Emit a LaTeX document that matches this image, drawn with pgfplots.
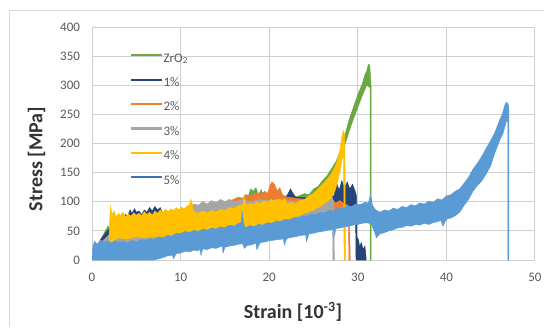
\documentclass[border=0pt]{standalone}
\usepackage{pgfplots}
\pgfplotsset{compat=1.18}
\usepackage{fontspec}
\setmainfont{Carlito}

\definecolor{cZr}{HTML}{6AA843}
\definecolor{cOne}{HTML}{264478}
\definecolor{cTwo}{HTML}{ED7D31}
\definecolor{cThree}{HTML}{A5A5A5}
\definecolor{cFour}{HTML}{FFC000}
\definecolor{cFive}{HTML}{5B9BD5}
\definecolor{cFiveLeg}{HTML}{3F72B5}
\definecolor{txtgray}{HTML}{595959}
\definecolor{gridgray}{HTML}{D0D0D0}
\definecolor{framegray}{HTML}{D9D9D9}

\begin{document}
\begin{tikzpicture}[x=1pt,y=1pt]
\useasboundingbox (0,0) rectangle (544,327);
% chart area frame
\draw[framegray, line width=0.8pt] (9.3,0) -- (9.3,317) -- (544,317);

\begin{axis}[
  at={(92pt,67pt)}, anchor=south west,
  scale only axis, width=443pt, height=233pt,
  xmin=0, xmax=50, ymin=0, ymax=400,
  xtick={0,10,...,50}, ytick={0,50,...,400},
  grid=major, grid style={color=gridgray, line width=1pt},
  axis line style={draw=none}, major tick length=0pt,
  tick label style={font=\fontsize{13}{15}\selectfont, color=txtgray},
  /pgf/number format/assume math mode=true,
  yticklabel style={xshift=-8.5pt},
  xticklabel style={yshift=-10pt},
  xlabel={Strain [10\textsuperscript{-3}]},
  ylabel={Stress [MPa]},
  every axis x label/.style={at={(axis description cs:0.4537,-0.223)}, anchor=center,
    font=\bfseries\fontsize{20}{24}\selectfont, text=black!80},
  every axis y label/.style={at={(axis description cs:-0.1253,0.4335)}, rotate=90, anchor=center,
    font=\bfseries\fontsize{20}{24}\selectfont, text=black!80},
  legend cell align=left,
  legend style={at={(axis description cs:0.088,0.895)}, anchor=north west,
    draw=none, fill=none, inner sep=0pt, row sep=9.4pt, column sep=0pt,
    font=\fontsize{13}{15}\selectfont, text=txtgray,
    nodes={inner sep=2pt, text height=8.5pt, text depth=2.5pt}},
  legend image code/.code={\fill[#1] (0pt,3.5pt) rectangle (30pt,4.7pt);},
]

% ZrO2
\addplot[fill=cZr, draw=cZr, line width=0.5pt, forget plot] coordinates {
 (0,0) (0.5,20) (1,35) (1.5,50) (1.8,58) (2.2,54) (2.6,62) (3,60) (3.5,66) (4,63)
 (5,70) (6,68) (7,75) (8,74) (9,80) (10,78) (11,86) (12,84) (13,90) (14,88)
 (15,96) (16,94) (17,104) (17.3,112) (17.6,106) (17.9,122) (18.2,118) (18.5,124)
 (18.8,112) (19.1,121) (19.4,108) (20,110) (21,106) (22,110) (23,108) (24,114)
 (24.5,112) (25,122) (25.5,126) (26,136) (26.5,144) (27,156) (27.5,168) (28,186)
 (28.5,212) (29,240) (29.5,262) (30,284) (30.5,302) (30.8,318) (31,324) (31.2,336)
 (31.35,334) (31.5,300) (31.5,0)
 (31.38,0) (31.38,296) (31,300) (30.5,282) (30,262) (29.5,242) (29,220) (28.5,196)
 (28,176) (27.5,158) (27,140) (26.5,128) (26,116) (25,100) (24,90) (22,84) (20,78)
 (18,72) (16,66) (14,60) (12,55) (10,50) (8,45) (6,40) (4,34) (2.5,30) (2,28) (1,15) (0,0)
};
% 1 %
\addplot[fill=cOne, draw=cOne, line width=0.5pt, forget plot] coordinates {
 (0,0) (0.5,22) (1,36) (1.5,46) (2,55) (2.5,62) (3,66) (3.5,72) (3.8,78) (4,74)
 (4.3,86) (4.5,80) (4.8,88) (5,82) (5.3,84) (5.6,78) (5.9,86) (6.2,82) (6.5,90)
 (6.8,84) (7.1,92) (7.4,86) (7.7,90) (8,80) (10,82) (12,86) (14,90) (16,96)
 (18,100) (20,104) (21,108) (22,110) (22.4,122) (22.7,114) (23,108) (25,106)
 (26.5,110) (27,116) (27.3,108) (27.6,132) (27.9,120) (28.2,136) (28.5,124)
 (28.8,134) (29.1,122) (29.4,130) (29.7,118) (29.85,110) (29.9,40) (30.1,34)
 (30.2,22) (30.4,30) (30.6,18) (30.8,24) (30.9,10) (30.95,0)
 (29.8,0) (29.75,75) (29,80) (28,78) (27,72) (25,68) (23,66) (21,62) (18,58)
 (15,52) (12,48) (10,46) (8,50) (6,48) (4,45) (3,40) (2,30) (1,15) (0,0)
};
% 2 %
\addplot[fill=cTwo, draw=cTwo, line width=0.5pt, forget plot] coordinates {
 (0,0) (0.5,18) (1,30) (2,44) (2.5,54) (3,60) (3.5,66) (4,70) (5,74) (6,76) (7,78)
 (8,76) (9,80) (10,82) (11,88) (12,90) (13,94) (14,96) (15,100) (16,104) (16.5,108)
 (17,106) (17.5,112) (18,110) (18.5,116) (19,112) (19.5,118) (19.8,114) (20.1,128)
 (20.3,134) (20.6,130) (20.9,118) (21.2,124) (21.5,112) (22,108) (23,106) (24,104)
 (25,108) (26,104) (26.5,100) (27,104) (27.5,98) (28,102) (28.5,96) (28.9,94)
 (29.05,80) (29.15,0)
 (29.0,0) (28.95,60) (28,58) (27,56) (26,58) (25,60) (24,62) (22,58) (20,55) (18,50)
 (15,45) (12,40) (9,35) (6,30) (4,24) (3,22) (2.3,20) (2,28) (1,12) (0,0)
};
% 3 %
\addplot[fill=cThree, draw=cThree, line width=0.5pt, forget plot] coordinates {
 (0,0) (1,28) (2,44) (2.5,50) (3,54) (4,58) (5,62) (6,66) (7,70) (8,74) (9,78)
 (10,82) (11,86) (11.5,96) (12,94) (12.5,100) (13,96) (13.5,102) (14,98) (14.5,104)
 (15,100) (15.5,104) (16,100) (17,104) (18,100) (19,104) (20,102) (21,104) (22,102)
 (23,100) (24,104) (25,106) (25.5,102) (26,110) (26.5,104) (26.8,114) (27.1,108)
 (27.3,100) (27.35,0)
 (27.2,0) (27.15,70) (26,68) (24,62) (22,60) (20,56) (18,52) (15,48) (12,40) (9,35)
 (6,28) (4,22) (3,20) (2.5,22) (2,30) (1,12) (0,0)
};
% 4 %
\addplot[fill=cFour, draw=cFour, line width=0.5pt, forget plot] coordinates {
 (1.9,22) (2.0,70) (2.1,92) (2.25,78) (2.5,84) (2.7,74) (3,80) (3.2,76) (3.5,82)
 (3.8,74) (4.1,79) (4.4,75) (4.7,81) (5,77) (5.3,80) (5.6,76) (5.9,83) (6.2,78)
 (6.5,82) (6.8,77) (7.1,84) (7.4,80) (7.7,86) (8,82) (8.3,87) (8.6,83) (8.9,88)
 (9.2,85) (9.5,90) (9.8,86) (10.1,91) (10.4,88) (10.7,92) (11,95) (11.15,104)
 (11.3,98) (11.45,84) (12,80) (12.5,84) (13,81) (13.5,85) (14,82) (14.5,87) (15,85)
 (15.5,90) (16,88) (16.5,93) (17,95) (17.2,108) (17.4,94) (17.8,97) (18.2,95)
 (18.6,100) (19,97) (19.4,102) (19.8,99) (20.2,104) (20.6,101) (21,105) (21.4,102)
 (21.8,106) (22,96) (22.5,99) (23,97) (23.5,102) (24,104) (24.5,110) (25,114)
 (25.5,122) (26,130) (26.5,138) (27,148) (27.5,162) (28,190) (28.2,212) (28.35,222)
 (28.5,216) (28.55,180) (28.6,0)
 (28.45,0) (28.4,182) (28.2,172) (28,152) (27.5,122) (27,106) (26.5,100) (26,94)
 (25.5,90) (25,86) (24,80) (23,74) (22,66) (21,62) (20,60) (19,56) (18,54) (17,50)
 (16,48) (15,46) (14,44) (13,42) (12,40) (11,42) (10,40) (9,40) (8,38) (7,40) (6,38)
 (5,40) (4,36) (3,38) (2.5,34) (2.1,30) (1.9,22)
};
% 5 %
\addplot[fill=cFive, draw=cFive, line width=0.5pt, forget plot] coordinates {
 (0,0) (0.1,24) (0.3,32) (0.6,27) (1,34) (1.4,30) (1.8,33) (2.2,29) (2.6,33) (3,30)
 (3.5,32) (4,29) (4.5,33) (5,31) (5.5,35) (6,33) (6.5,37) (7,35) (7.5,40) (8,38)
 (8.5,42) (9,41) (9.5,46) (10,45) (10.5,49) (11,47) (11.5,51) (12,49) (12.5,53)
 (13,51) (13.5,55) (14,53) (14.5,57) (15,55) (15.5,60) (16,58) (16.5,62) (16.85,65)
 (16.95,84) (17.1,62) (17.3,55) (17.8,59) (18.3,57) (18.8,61) (19.3,60) (19.8,64)
 (20.3,63) (20.8,67) (21.3,66) (21.8,70) (22.3,69) (22.8,73) (23.3,72) (23.8,76)
 (24.3,75) (24.8,79) (25.3,78) (25.8,82) (26.3,81) (26.8,85) (27.3,84) (27.8,89)
 (28.3,88) (28.8,93) (29.3,92) (29.8,96) (30.3,95) (30.8,99) (31.2,98) (31.45,112)
 (31.65,94) (32,86) (32.5,82) (33,86) (33.5,84) (34,89) (34.5,87) (35,92) (35.5,90)
 (36,95) (36.5,93) (37,98) (37.5,96) (38,101) (38.5,99) (39,105) (39.5,103) (40,110)
 (40.5,112) (41,118) (41.5,122) (42,132) (42.5,142) (43,156) (43.5,166) (44,178)
 (44.5,192) (45,205) (45.5,220) (46,240) (46.3,250) (46.6,266) (46.8,271)
 (46.95,268) (47.05,262) (47.05,0)
 (46.95,0) (46.95,236) (46.8,240) (46.4,218) (46,205) (45.5,185) (45,162)
 (44.5,148) (44,136) (43.5,128) (43,118) (42.5,104) (42,94) (41.5,82) (41,76)
 (40.5,72) (40,70) (39.6,58) (39.4,68) (39,66) (38.5,64) (38,61) (37.5,63) (37,60)
 (36.5,61) (36,58) (35.5,59) (35,56) (34.5,55) (34,52) (33.5,50) (33,47) (32.5,45)
 (32.1,38) (31.9,48) (31.5,62) (31,64) (30.5,63) (30,61) (29.5,60) (29,58) (28.5,57)
 (28,55) (27.5,54) (27.4,42) (27.3,54) (27,52) (26.5,51) (26,49) (25.5,48) (25,46)
 (24.5,45) (24.2,32) (24.1,45) (24,43) (23.5,42) (23,40) (22.5,39) (22,37) (21.7,26)
 (21.6,37) (21.5,36) (21,35) (20.5,34) (20,33) (19.5,31) (19,30) (18.6,18) (18.5,29)
 (18,26) (17.5,25) (17.2,20) (17,28) (16.5,27) (16,25) (15.5,24) (15,22) (14.8,12)
 (14.7,23) (14.5,23) (14,20) (13.5,21) (13,18) (12.5,19) (12.3,8) (12.2,19) (12,16)
 (11.5,17) (11,14) (10.5,15) (10,12) (9.5,11) (9.2,2) (9.1,9) (9,8) (8.5,7) (8,4)
 (7.5,2) (7,0) (0,0)
};

\addlegendimage{cZr}\addlegendentry{ZrO\textsubscript{2}}
\addlegendimage{cOne}\addlegendentry{1\%}
\addlegendimage{cTwo}\addlegendentry{2\%}
\addlegendimage{cThree}\addlegendentry{3\%}
\addlegendimage{cFour}\addlegendentry{4\%}
\addlegendimage{cFiveLeg}\addlegendentry{5\%}
\end{axis}
\end{tikzpicture}
\end{document}
